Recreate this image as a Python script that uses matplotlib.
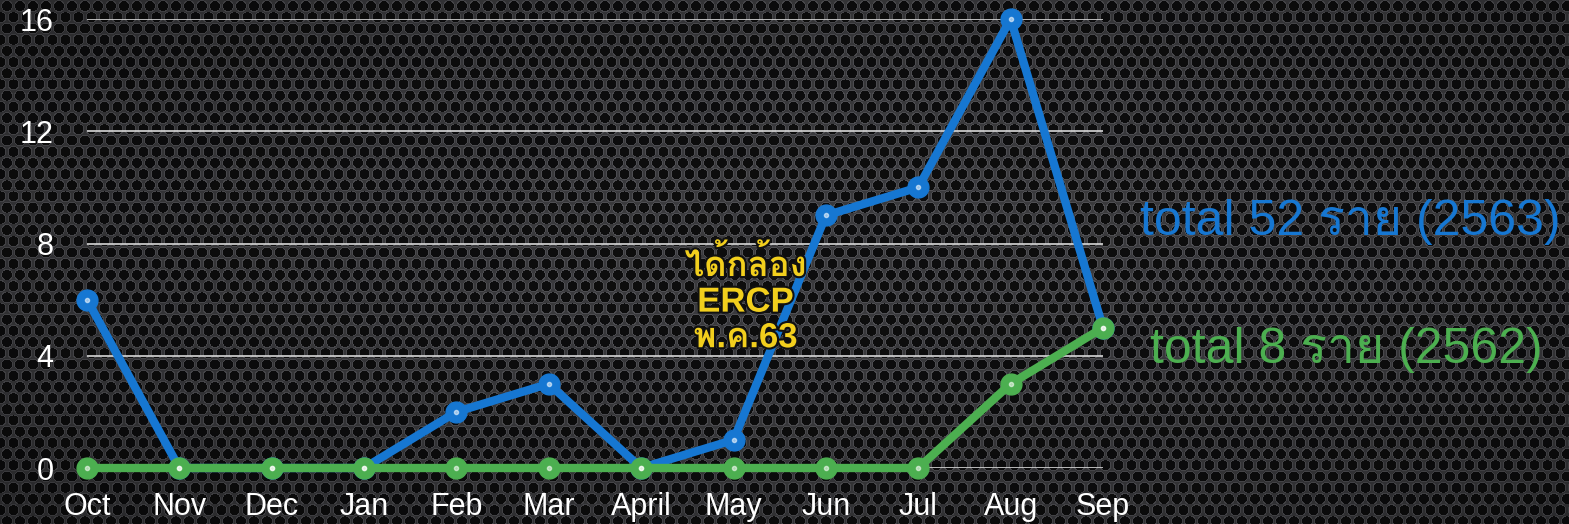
import matplotlib
matplotlib.use("Agg")
import matplotlib.pyplot as plt
import numpy as np
from matplotlib import font_manager, ft2font
import matplotlib.patheffects as pe

months = ["Oct", "Nov", "Dec", "Jan", "Feb", "Mar", "April", "May", "Jun", "Jul", "Aug", "Sep"]
cases_2563 = [6, 0, 0, 0, 2, 3, 0, 1, 9, 10, 16, 5]
cases_2562 = [0, 0, 0, 0, 0, 0, 0, 0, 0, 0, 3, 5]
y_ticks = [0, 4, 8, 12, 16]
label_2563 = "total 52 ราย (2563)"
label_2562 = "total 8 ราย (2562)"
note_text = "ได้กล้อง\nERCP\nพ.ค.63"
note_pos = (7.13, 6.0)

BLUE = "#1677d2"
GREEN = "#4caf50"
YELLOW = "#f2cf1d"

W, H, DPI = 1569, 524, 100


def thai_fonts():
    # look for any installed family that covers Thai
    names = []
    for f in font_manager.fontManager.ttflist:
        try:
            ft = ft2font.FT2Font(f.fname)
            if ft.get_char_index(ord("ร")) and f.name not in names:
                names.append(f.name)
        except Exception:
            pass
    return names


families = ["Liberation Sans"] + thai_fonts() + ["DejaVu Sans"]
plt.rcParams["font.family"] = families


def metal_texture(w, h):
    # perforated metal look for the background
    yy, xx = np.mgrid[0:h, 0:w].astype(float)
    dx, dy = 13.0, 11.2
    row = np.floor(yy / dy)
    cx = (xx + (row % 2) * dx / 2) % dx - dx / 2
    cy = yy % dy - dy / 2
    r = np.sqrt(cx ** 2 + cy ** 2)
    base = np.full((h, w), 0.22)
    base = np.where(r < 5.0, 0.05, base)
    rim = (r >= 5.0) & (r < 6.0)
    base = np.where(rim, 0.30, base)
    # slight vignette, lighter near the middle
    vx = (xx - w * 0.55) / w
    vy = (yy - h * 0.45) / h
    base = base * (1.05 - 0.6 * (vx ** 2 + vy ** 2))
    img = np.dstack([base, base, base * 1.05])
    return np.clip(img, 0, 1)


fig = plt.figure(figsize=(W / DPI, H / DPI), dpi=DPI)
fig.figimage(metal_texture(W, H), 0, 0, zorder=-10, origin="upper")

ax = fig.add_axes([87 / W, 1 - 468 / H, (1103 - 87) / W, (468 - 19) / H])
ax.set_zorder(5)
ax.set_facecolor("none")
x = np.arange(len(months))

for yt in y_ticks:
    ax.axhline(yt, color="#d8d8d8", lw=1.2, zorder=1)

for vals, col in [(cases_2563, BLUE), (cases_2562, GREEN)]:
    ax.plot(x, vals, color=col, lw=6, marker="o", ms=15, mfc=col, mec=col,
            solid_capstyle="round", clip_on=False, zorder=3)
    ax.plot(x, vals, ls="none", marker="o", ms=3, color="white", alpha=0.55,
            clip_on=False, zorder=4)

ax.set_xlim(0, len(months) - 1)
ax.set_ylim(0, 16)
ax.set_xticks(x)
ax.set_xticklabels(months)
ax.set_yticks(y_ticks)
ax.tick_params(axis="both", length=0, labelsize=22, labelcolor="white")
ax.tick_params(axis="x", pad=17)
ax.tick_params(axis="y", pad=24)
for s in ax.spines.values():
    s.set_visible(False)

ax.text(note_pos[0], note_pos[1], note_text, color=YELLOW, fontsize=25, fontweight="bold",
        ha="center", va="center", linespacing=1.1, zorder=5,
        path_effects=[pe.withStroke(linewidth=3, foreground="#111111")])

fig.text(1350 / W, 1 - 222 / H, label_2563, color=BLUE, fontsize=36, ha="center", va="center")
fig.text(1346 / W, 1 - 350 / H, label_2562, color=GREEN, fontsize=36, ha="center", va="center")

fig.savefig("out.png", dpi=DPI)
